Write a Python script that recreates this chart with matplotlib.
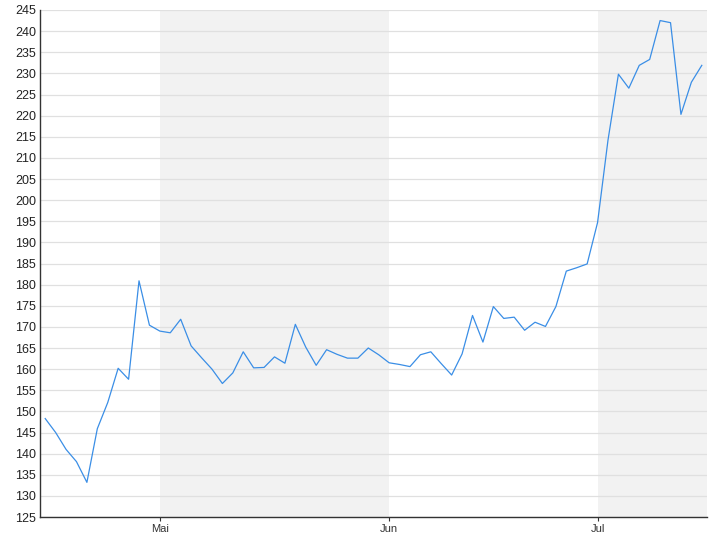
import numpy as np
import matplotlib.pyplot as plt

# price values, one per trading day
prices = [148.3, 145.0, 141.0, 138.1, 133.2, 145.9, 152.1, 160.2, 157.6, 180.9,
          170.4, 169.0, 168.6, 171.8, 165.5, 162.7, 160.0, 156.6, 159.1, 164.1,
          160.3, 160.4, 162.9, 161.4, 170.6, 165.2, 160.9, 164.6, 163.5, 162.6,
          162.6, 165.0, 163.4, 161.5, 161.1, 160.6, 163.4, 164.1, 161.3, 158.6,
          163.6, 172.7, 166.4, 174.8, 172.0, 172.3, 169.2, 171.1, 170.1, 174.8,
          183.2, 184.0, 184.9, 194.7, 214.2, 229.8, 226.5, 231.9, 233.3, 242.5,
          242.0, 220.3, 227.9, 231.9]

# index of first trading day of each month
month_starts = [11, 33, 53]
month_labels = ['Mai', 'Jun', 'Jul']
shaded = [(11, 33), (53, 63.5)]

plt.rcParams['font.family'] = ['Liberation Sans', 'DejaVu Sans']

fig = plt.figure(figsize=(7.2, 5.4), dpi=100)
ax = fig.add_axes([40/720, 23/540, 667/720, 507/540])

x = np.arange(len(prices))

for a, b in shaded:
    ax.axvspan(a, b, color='#f2f2f2', lw=0, zorder=0)

ax.set_yticks(np.arange(125, 246, 5))
ax.grid(axis='y', color='#e0e0e0', lw=0.9, zorder=1)
ax.plot(x, prices, color='#3a8ee6', lw=0.9, zorder=3)

ax.set_xlim(-0.5, 63.5)
ax.set_ylim(125, 245)
ax.set_xticks(month_starts)
ax.set_xticklabels(month_labels)

for s in ['top', 'right']:
    ax.spines[s].set_visible(False)
for s in ['left', 'bottom']:
    ax.spines[s].set_color('#333333')
    ax.spines[s].set_linewidth(1.0)

ax.tick_params(axis='y', length=0, pad=3, labelsize=9, colors='#222222')
ax.tick_params(axis='x', length=3, pad=2, labelsize=8, colors='#333333')
ax.set_axisbelow(True)

plt.savefig('out.png', dpi=100)
